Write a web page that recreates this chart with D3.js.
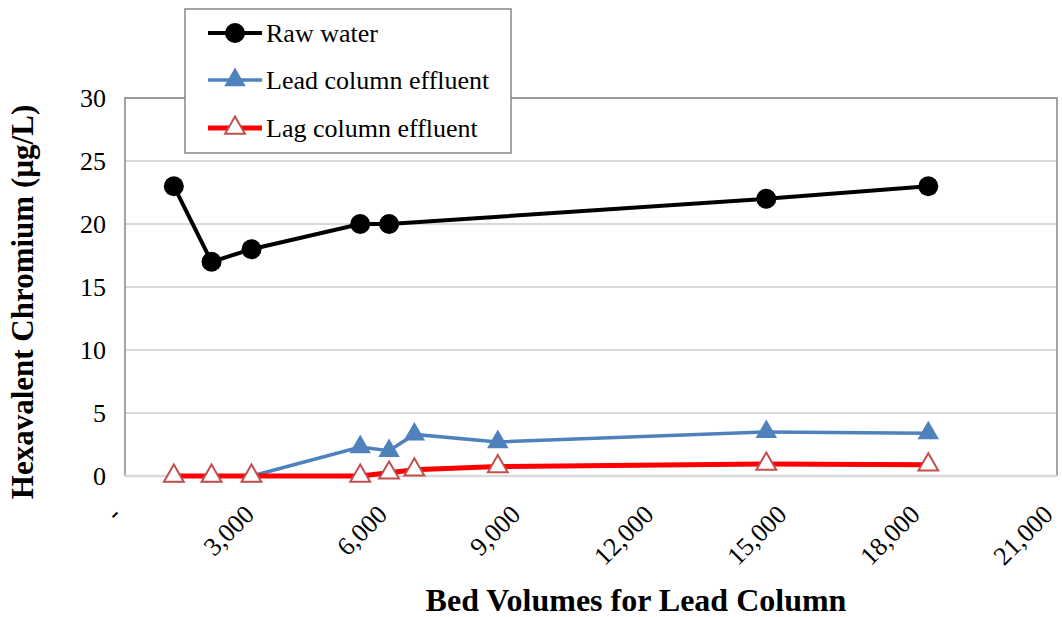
<!DOCTYPE html>
<html>
<head>
<meta charset="utf-8">
<script src="https://cdn.jsdelivr.net/npm/d3@7"></script>
<style>
	body { margin: 0; background: #fff; }
	text { font-family: "Liberation Serif", "Times New Roman", serif; }
</style>
</head>
<body>
<div id="chart"></div>
<script>
(function(){
	// bed volumes and Cr(VI) readings
	var rawX = [1100, 1950, 2850, 5300, 5950, 14450, 18100];
	var rawY = [23, 17, 18, 20, 20, 22, 23];
	var leadX = [1100, 1950, 2850, 5300, 5950, 6520, 8400, 14450, 18100];
	var leadY = [0, 0, 0, 2.3, 2.0, 3.3, 2.7, 3.5, 3.4];
	var lagX = [1100, 1950, 2850, 5300, 5950, 6520, 8400, 14450, 18100];
	var lagY = [0, 0, 0, 0, 0.25, 0.5, 0.75, 0.95, 0.9];
	var xTicks = [0, 3000, 6000, 9000, 12000, 15000, 18000, 21000];
	var yTicks = [0, 5, 10, 15, 20, 25, 30];
	var seriesNames = ['Raw water', 'Lead column effluent', 'Lag column effluent'];

	var W = 1062, H = 617;
	var left = 125, right = 1057, top = 98, bottom = 476;

	var svg = d3.select('#chart').append('svg')
		.attr('width', W)
		.attr('height', H);

	var x = d3.scaleLinear().domain([0, 21000]).range([left, right]);
	var y = d3.scaleLinear().domain([0, 30]).range([bottom, top]);

	// gridlines
	svg.append('g').selectAll('line')
		.data(yTicks)
		.enter().append('line')
		.attr('x1', left).attr('x2', right)
		.attr('y1', function(d){ return y(d); })
		.attr('y2', function(d){ return y(d); })
		.style('stroke', '#d9d9d9')
		.style('stroke-width', 2);

	// plot border
	svg.append('path')
		.attr('d', 'M' + left + ',' + bottom + 'V' + top + 'H' + right + 'V' + bottom)
		.style('fill', 'none')
		.style('stroke', '#868686')
		.style('stroke-width', 1.5);
	svg.append('line')
		.attr('x1', left).attr('x2', right)
		.attr('y1', bottom).attr('y2', bottom)
		.style('stroke', '#d9d9d9')
		.style('stroke-width', 2.5);

	// y axis
	var yAxis = svg.append('g')
		.attr('transform', 'translate(' + left + ',0)')
		.call(d3.axisLeft(y).tickValues(yTicks).tickSize(0).tickPadding(19));
	yAxis.select('.domain').remove();
	yAxis.selectAll('text')
		.style('font-size', '26px')
		.style('fill', '#000');

	// x axis with rotated labels
	var xAxis = svg.append('g')
		.attr('transform', 'translate(0,' + bottom + ')')
		.call(d3.axisBottom(x).tickValues(xTicks).tickSize(0)
			.tickFormat(function(d){ return d === 0 ? '-' : d3.format(',')(d); }));
	xAxis.select('.domain').remove();
	xAxis.selectAll('text')
		.style('font-size', '26px')
		.style('fill', '#000')
		.style('text-anchor', 'end')
		.attr('dy', null)
		.attr('y', 0)
		.attr('transform', 'translate(-3,40) rotate(-45)');

	// axis titles
	svg.append('text')
		.attr('x', 636).attr('y', 611)
		.attr('text-anchor', 'middle')
		.style('font-size', '32px')
		.style('font-weight', 'bold')
		.text('Bed Volumes for Lead Column');
	svg.append('text')
		.attr('transform', 'translate(33,302) rotate(-90)')
		.attr('text-anchor', 'middle')
		.style('font-size', '31px')
		.style('font-weight', 'bold')
		.text('Hexavalent Chromium (µg/L)');

	var line = d3.line()
		.x(function(d){ return x(d[0]); })
		.y(function(d){ return y(d[1]); });

	var raw = d3.zip(rawX, rawY);
	var lead = d3.zip(leadX, leadY);
	var lag = d3.zip(lagX, lagY);

	var tri = d3.symbol().type(d3.symbolTriangle);

	// lead column
	svg.append('path').datum(lead)
		.attr('d', line)
		.style('fill', 'none')
		.style('stroke', '#4f81bd')
		.style('stroke-width', 3.5);
	svg.append('g').selectAll('path')
		.data(lead)
		.enter().append('path')
		.attr('d', tri.size(200)())
		.attr('transform', function(d){ return 'translate(' + x(d[0]) + ',' + y(d[1]) + ')'; })
		.style('fill', '#4f81bd');

	// lag column
	svg.append('path').datum(lag)
		.attr('d', line)
		.style('fill', 'none')
		.style('stroke', '#ff0000')
		.style('stroke-width', 5);
	svg.append('g').selectAll('path')
		.data(lag)
		.enter().append('path')
		.attr('d', tri.size(170)())
		.attr('transform', function(d){ return 'translate(' + x(d[0]) + ',' + y(d[1]) + ')'; })
		.style('fill', '#fff')
		.style('stroke', '#c0504d')
		.style('stroke-width', 2);

	// raw water
	svg.append('path').datum(raw)
		.attr('d', line)
		.style('fill', 'none')
		.style('stroke', '#000')
		.style('stroke-width', 4);
	svg.append('g').selectAll('circle')
		.data(raw)
		.enter().append('circle')
		.attr('cx', function(d){ return x(d[0]); })
		.attr('cy', function(d){ return y(d[1]); })
		.attr('r', 10)
		.style('fill', '#000');

	// legend
	var lg = svg.append('g');
	lg.append('rect')
		.attr('x', 185).attr('y', 9)
		.attr('width', 326).attr('height', 144)
		.style('fill', '#fff')
		.style('stroke', '#868686')
		.style('stroke-width', 1.5);
	var rowY = [33, 80, 128];
	var colors = ['#000', '#4f81bd', '#ff0000'];
	var widths = [4, 3.5, 5];
	seriesNames.forEach(function(name, i){
		lg.append('line')
			.attr('x1', 208).attr('x2', 262)
			.attr('y1', rowY[i]).attr('y2', rowY[i])
			.style('stroke', colors[i])
			.style('stroke-width', widths[i]);
		if (i === 0) {
			lg.append('circle').attr('cx', 235).attr('cy', rowY[i]).attr('r', 10).style('fill', '#000');
		} else if (i === 1) {
			lg.append('path').attr('d', tri.size(200)())
				.attr('transform', 'translate(235,' + rowY[i] + ')')
				.style('fill', '#4f81bd');
		} else {
			lg.append('path').attr('d', tri.size(170)())
				.attr('transform', 'translate(235,' + rowY[i] + ')')
				.style('fill', '#fff')
				.style('stroke', '#c0504d')
				.style('stroke-width', 2);
		}
		lg.append('text')
			.attr('x', 266).attr('y', rowY[i] + 9)
			.style('font-size', '26px')
			.text(name);
	});
})();
</script>
</body>
</html>
